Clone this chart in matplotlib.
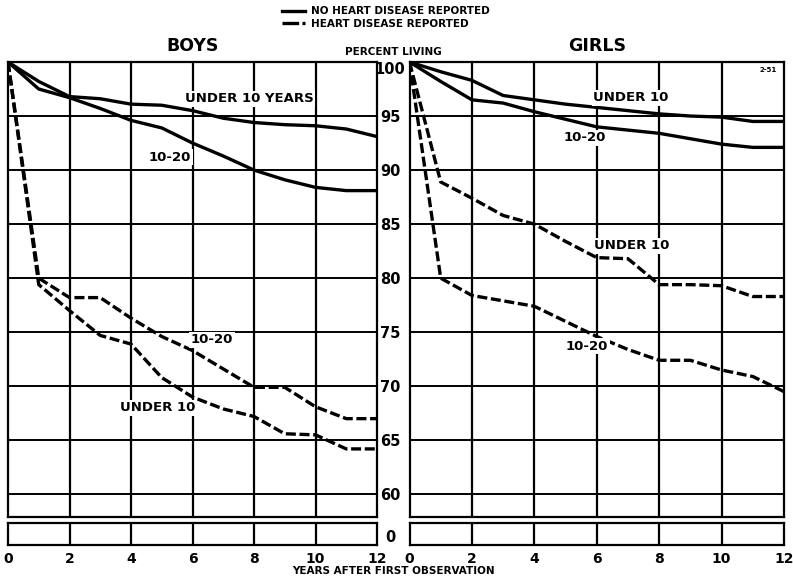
import matplotlib
matplotlib.use("Agg")
from matplotlib import pyplot as plt
from matplotlib.lines import Line2D

plt.rcParams['font.family'] = ['DejaVu Sans']
plt.rcParams['font.weight'] = 'bold'

# years after first observation
years = [0, 1, 2, 3, 4, 5, 6, 7, 8, 9, 10, 11, 12]

# percent living - boys
boys_no_u10 = [100, 98.2, 96.8, 96.6, 96.1, 96.0, 95.5, 94.8, 94.4, 94.2, 94.1, 93.8, 93.1]
boys_no_1020 = [100, 97.5, 96.7, 95.7, 94.6, 93.9, 92.5, 91.3, 90.0, 89.1, 88.4, 88.1, 88.1]
boys_hd_1020 = [100, 80.0, 78.2, 78.2, 76.3, 74.6, 73.3, 71.6, 69.9, 69.9, 68.1, 67.0, 67.0]
boys_hd_u10 = [100, 79.4, 77.0, 74.7, 73.9, 70.8, 69.0, 67.9, 67.2, 65.6, 65.5, 64.2, 64.2]

# percent living - girls
girls_no_u10 = [100, 99.1, 98.3, 96.9, 96.5, 96.1, 95.8, 95.5, 95.2, 95.0, 94.9, 94.5, 94.5]
girls_no_1020 = [100, 98.2, 96.5, 96.2, 95.4, 94.7, 94.0, 93.7, 93.4, 92.9, 92.4, 92.1, 92.1]
girls_hd_u10 = [100, 88.9, 87.4, 85.8, 85.0, 83.4, 81.9, 81.8, 79.4, 79.4, 79.3, 78.3, 78.3]
girls_hd_1020 = [100, 80.0, 78.4, 77.9, 77.4, 76.0, 74.6, 73.4, 72.4, 72.4, 71.5, 70.9, 69.5]

x_ticks = [0, 2, 4, 6, 8, 10, 12]
y_ticks = [60, 65, 70, 75, 80, 85, 90, 95, 100]

W, H = 793, 578
fig = plt.figure(figsize=(W / 100, H / 100), dpi=100)


def fx(px):
    return px / W


def fy(py):
    return 1 - py / H


panels = {
    'BOYS': (8, 377),
    'GIRLS': (409.5, 784),
}

dash = (0, (3.0, 1.1))
LW = 2.4
axes = {}
for name, (left, right) in panels.items():
    top = fig.add_axes([fx(left), fy(517), fx(right - left), fy(62) - fy(517)])
    low = fig.add_axes([fx(left), fy(545), fx(right - left), fy(523) - fy(545)])
    top.set_xlim(0, 12)
    top.set_ylim(57.9, 100)
    low.set_xlim(0, 12)
    low.set_ylim(0, 1)
    for a in (top, low):
        for s in a.spines.values():
            s.set_linewidth(1.6)
        a.tick_params(length=0)
        a.set_xticks(x_ticks)
    for xv in x_ticks[1:-1]:
        top.axvline(xv, color='black', lw=1.6, zorder=1)
        low.axvline(xv, color='black', lw=1.6, zorder=1)
    for yv in y_ticks[:-1]:
        top.axhline(yv, color='black', lw=1.4, zorder=1)
    top.set_xticklabels([])
    top.set_yticks(y_ticks)
    low.set_yticks([0])
    low.set_xticklabels([str(v) for v in x_ticks], fontsize=10, fontweight='bold')
    low.tick_params(axis='x', pad=5)
    if name == 'BOYS':
        top.set_yticklabels([])
        low.set_yticklabels([])
    else:
        top.set_yticklabels([str(v) for v in y_ticks], fontsize=10.5, fontweight='bold', ha='center')
        low.set_yticklabels(['0'], fontsize=10.5, fontweight='bold', ha='center')
        top.tick_params(axis='y', pad=14)
        low.tick_params(axis='y', pad=14)
        top.get_yticklabels()[-1].set_va('top')
        for lab in low.get_yticklabels():
            lab.set_va('bottom')
    top.set_title(name, fontsize=12.5, fontweight='bold', pad=8)
    axes[name] = top

ax = axes['BOYS']
ax.plot(years, boys_no_u10, color='black', lw=LW, zorder=3)
ax.plot(years, boys_no_1020, color='black', lw=LW, zorder=3)
ax.plot(years, boys_hd_1020, color='black', lw=LW, ls=dash, zorder=3)
ax.plot(years, boys_hd_u10, color='black', lw=LW, ls=dash, zorder=3)
lab_kw = dict(fontsize=9.5, fontweight='bold', ha='center', va='center', zorder=4,
              bbox=dict(facecolor='white', edgecolor='none', pad=1))
ax.text(7.84, 96.6, 'UNDER 10 YEARS', **lab_kw)
ax.text(5.27, 91.2, '10-20', **lab_kw)
ax.text(6.63, 74.3, '10-20', **lab_kw)
ax.text(4.88, 68.0, 'UNDER 10', **lab_kw)

ax = axes['GIRLS']
ax.plot(years, girls_no_u10, color='black', lw=LW, zorder=3)
ax.plot(years, girls_no_1020, color='black', lw=LW, zorder=3)
ax.plot(years, girls_hd_u10, color='black', lw=LW, ls=dash, zorder=3)
ax.plot(years, girls_hd_1020, color='black', lw=LW, ls=dash, zorder=3)
ax.text(7.1, 96.7, 'UNDER 10', **lab_kw)
ax.text(5.63, 93.0, '10-20', **lab_kw)
ax.text(7.13, 83.0, 'UNDER 10', **lab_kw)
ax.text(5.69, 73.7, '10-20', **lab_kw)
ax.text(11.5, 99.3, '2-51', fontsize=5, fontweight='bold', ha='center', va='center')

fig.text(fx(393), fy(52), 'PERCENT LIVING', fontsize=7.5, fontweight='bold', ha='center', va='center')
fig.text(fx(393), fy(571), 'YEARS AFTER FIRST OBSERVATION', fontsize=7.5, fontweight='bold',
         ha='center', va='center')

handles = [Line2D([], [], color='black', lw=LW),
           Line2D([], [], color='black', lw=LW, ls=(0, (5, 1)))]
fig.legend(handles, ['NO HEART DISEASE REPORTED', 'HEART DISEASE REPORTED'],
           loc='upper left', bbox_to_anchor=(fx(276), fy(0)), frameon=False,
           prop=dict(size=7.5, weight='bold'), handlelength=2.2, handletextpad=0.6,
           labelspacing=0.25, borderaxespad=0.2)

fig.savefig('out.png', dpi=100)
